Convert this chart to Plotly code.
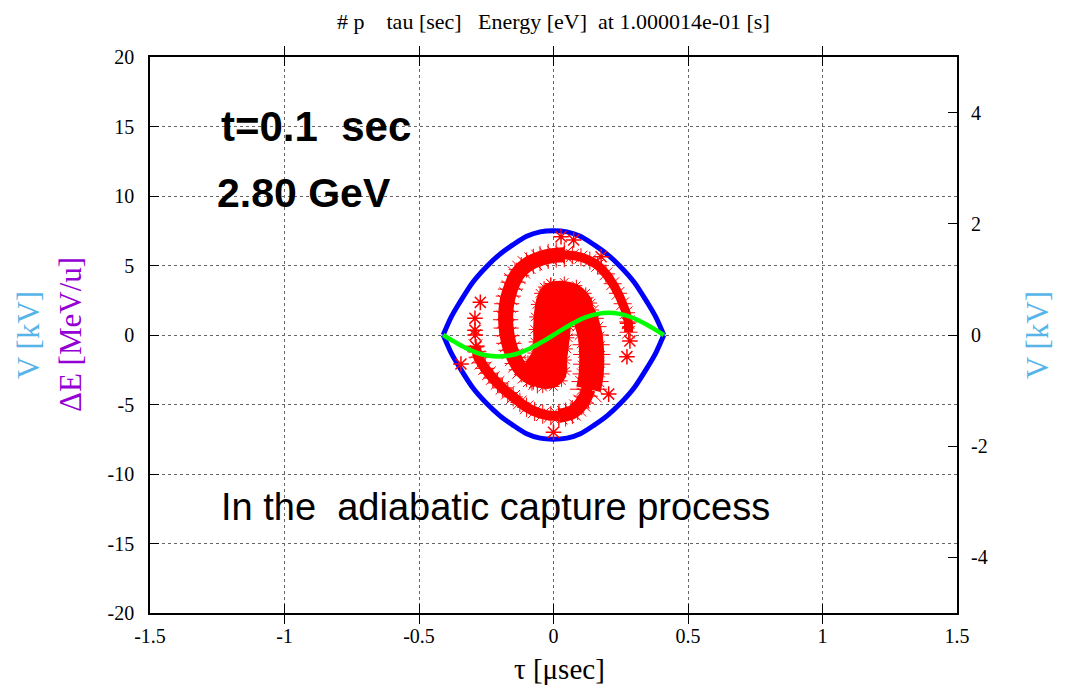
import plotly.graph_objects as go

# ---------------- data ----------------
# separatrix (bucket boundary), tau in usec, dE in MeV/u
sep_tau = [-0.41, -0.38, -0.35, -0.30, -0.25, -0.20, -0.15, -0.10, -0.05, 0.0,
           0.05, 0.10, 0.15, 0.20, 0.25, 0.30, 0.35, 0.38, 0.41]
sep_top = [0.0, 1.3, 2.3, 3.8, 4.9, 5.8, 6.5, 7.1, 7.42, 7.5,
           7.42, 7.1, 6.5, 5.8, 4.9, 3.8, 2.3, 1.3, 0.0]
sep_bottom = [0.0, -1.3, -2.3, -3.8, -4.9, -5.8, -6.5, -7.1, -7.42, -7.5,
              -7.42, -7.1, -6.5, -5.8, -4.9, -3.8, -2.3, -1.3, 0.0]

# RF voltage (right axis, kV)
volt_tau = [-0.41, -0.369, -0.328, -0.287, -0.246, -0.205, -0.164, -0.123, -0.082, -0.041, 0.0,
            0.041, 0.082, 0.123, 0.164, 0.205, 0.246, 0.287, 0.328, 0.369, 0.41]
volt_kv = [0.0, -0.12, -0.23, -0.315, -0.37, -0.385, -0.37, -0.315, -0.23, -0.12, 0.0,
           0.124, 0.235, 0.324, 0.38, 0.4, 0.38, 0.324, 0.235, 0.124, 0.0]

# particle distribution: spiral arms (centre lines) and core
armA_out_tau = [0.279, 0.278, 0.27, 0.257, 0.24, 0.22, 0.195, 0.164, 0.135, 0.102, 0.07, 0.04]
armA_out_de = [0.2, 0.94, 1.6, 2.25, 3.0, 3.69, 4.4, 5.01, 5.35, 5.6, 5.72, 5.78]
armA_in_tau = [0.04, 0.01, -0.02, -0.05, -0.075, -0.10, -0.12, -0.137, -0.15, -0.16, -0.168, -0.174,
               -0.177, -0.178, -0.176, -0.172, -0.166, -0.158, -0.147, -0.135, -0.12, -0.10, -0.08, -0.06]
armA_in_de = [5.78, 5.75, 5.65, 5.5, 5.3, 5.03, 4.7, 4.3, 3.8, 3.3, 2.8, 2.25,
              1.7, 1.1, 0.5, -0.05, -0.6, -1.1, -1.6, -2.05, -2.5, -2.85, -3.1, -3.3]

armB_out_tau = [-0.29, -0.285, -0.28, -0.268, -0.255, -0.24, -0.226, -0.208, -0.19, -0.17, -0.15,
                -0.125, -0.10, -0.07, -0.04, -0.01, 0.02]
armB_out_de = [-0.8, -1.2, -1.6, -2.0, -2.4, -2.75, -3.1, -3.45, -3.8, -4.15, -4.45,
               -4.85, -5.2, -5.5, -5.7, -5.8, -5.82]
armB_mid_tau = [0.02, 0.045, 0.07, 0.09, 0.105, 0.12, 0.13]
armB_mid_de = [-5.82, -5.72, -5.55, -5.25, -4.9, -4.4, -3.9]
armB_in_tau = [0.13, 0.136, 0.14, 0.142, 0.142, 0.14, 0.136, 0.128, 0.118, 0.10]
armB_in_de = [-3.9, -3.35, -2.8, -2.1, -1.4, -0.7, 0.0, 0.6, 1.2, 1.8]

core_tau = [-0.01, 0.04, 0.085, 0.12, 0.14, 0.135, 0.10, 0.075, 0.06, 0.055, 0.05, 0.045, 0.045,
            0.03, 0.0, -0.04, -0.075, -0.10, -0.11, -0.095, -0.075, -0.07, -0.07, -0.068, -0.062,
            -0.05, -0.035, -0.01]
core_de = [3.7, 3.78, 3.55, 3.0, 2.3, 1.7, 1.45, 1.3, 0.6, -0.2, -1.0, -1.8, -2.6,
           -3.3, -3.7, -3.75, -3.5, -3.1, -2.6, -1.9, -1.3, -0.5, 0.4, 1.3, 2.2,
           3.0, 3.45, 3.7]

# isolated particles
stray_tau = [0.028, 0.075, 0.177, 0.276, 0.284, 0.273, 0.205, 0.0, -0.272, -0.292, -0.292, -0.291,
             -0.288, -0.344]
stray_de = [7.07, 6.83, 5.63, 0.84, -0.43, -1.56, -4.25, -7.0, 2.35, 1.2, 0.35, 0.0,
            -0.84, -2.09]

# axis ticks
x_ticks = [-1.5, -1, -0.5, 0, 0.5, 1, 1.5]
x_ticklabels = ["-1.5", "-1", "-0.5", "0", "0.5", "1", "1.5"]
y_ticks = [-20, -15, -10, -5, 0, 5, 10, 15, 20]
y_ticklabels = ["-20", "-15", "-10", "-5", "0", "5", "10", "15", "20"]
y2_ticks = [-4, -2, 0, 2, 4]
y2_ticklabels = ["-4", "-2", "0", "2", "4"]

RED = "#ff0000"
fig = go.Figure()

# separatrix
for ys in (sep_top, sep_bottom):
    fig.add_trace(go.Scatter(x=sep_tau, y=ys, mode="lines",
                             line=dict(color="#0000ff", width=5, shape="spline", smoothing=0.8),
                             hoverinfo="skip", showlegend=False))

# core
fig.add_trace(go.Scatter(x=core_tau, y=core_de, mode="lines+markers", fill="toself",
                         fillcolor=RED, line=dict(color=RED, width=3, shape="spline"),
                         marker=dict(symbol="asterisk-open", size=10, color=RED,
                                     line=dict(color=RED, width=1)),
                         hoverinfo="skip", showlegend=False))


def arm(tx, ty, w, ms):
    fig.add_trace(go.Scatter(x=tx, y=ty, mode="lines+markers",
                             line=dict(color=RED, width=w, shape="spline"),
                             marker=dict(symbol="asterisk-open", size=ms, color=RED,
                                         line=dict(color=RED, width=1)),
                             hoverinfo="skip", showlegend=False))


arm(armA_out_tau, armA_out_de, 9, 15)
arm(armA_in_tau, armA_in_de, 15, 21)
arm(armB_out_tau, armB_out_de, 10, 16)
arm(armB_mid_tau, armB_mid_de, 14, 20)
arm(armB_in_tau, armB_in_de, 25, 31)

fig.add_trace(go.Scatter(x=stray_tau, y=stray_de, mode="markers",
                         marker=dict(symbol="asterisk-open", size=13, color=RED,
                                     line=dict(color=RED, width=1.5)),
                         hoverinfo="skip", showlegend=False))

# voltage
fig.add_trace(go.Scatter(x=volt_tau, y=volt_kv, yaxis="y2", mode="lines",
                         line=dict(color="#00ff00", width=4.5, shape="spline"),
                         hoverinfo="skip", showlegend=False))

serif = "Liberation Serif, Times New Roman, serif"
sans = "Liberation Sans, Arial, Helvetica, sans-serif"
nb = "\u00a0"
GRID = "#666666"

fig.update_layout(
    width=1071, height=691,
    margin=dict(l=150, r=114, t=57, b=78),
    paper_bgcolor="white", plot_bgcolor="white",
    font=dict(family=serif, size=20, color="black"),
    xaxis=dict(range=[-1.5, 1.5], tickvals=x_ticks, ticktext=x_ticklabels,
               showgrid=True, gridcolor=GRID, griddash="dot", gridwidth=1,
               zeroline=False, showline=True, linecolor="black", linewidth=1.5,
               mirror="allticks", ticks="inside", ticklen=9, tickcolor="black",
               ticklabelstandoff=4, tickfont=dict(family=serif, size=20)),
    yaxis=dict(range=[-20, 20], tickvals=y_ticks, ticktext=y_ticklabels,
               showgrid=True, gridcolor=GRID, griddash="dot", gridwidth=1,
               zeroline=False, showline=True, linecolor="black", linewidth=1.5,
               mirror=True, ticks="inside", ticklen=9, tickcolor="black",
               ticklabelstandoff=10, tickfont=dict(family=serif, size=20)),
    yaxis2=dict(range=[-5, 5], tickvals=y2_ticks, ticktext=y2_ticklabels,
                overlaying="y", side="right",
                showgrid=False, zeroline=False, showline=False,
                ticks="inside", ticklen=9, tickcolor="black",
                ticklabelstandoff=13, tickfont=dict(family=serif, size=20)),
)

ann = [
    dict(text="#" + nb + "p" + nb * 4 + "tau [sec]" + nb * 3 + "Energy [eV]" + nb * 2 + "at 1.000014e-01 [s]",
         xref="paper", yref="paper", x=0.5, y=1, yshift=36, xshift=0, xanchor="center", yanchor="middle",
         showarrow=False, font=dict(family=serif, size=22)),
    dict(text="τ [μsec]", xref="paper", yref="paper", x=0.5, y=0, yshift=-56, xshift=6,
         xanchor="center", yanchor="middle", showarrow=False, font=dict(family=serif, size=29)),
    dict(text="V [kV]", xref="paper", yref="paper", x=0, xshift=-122, y=0.5,
         textangle=-90, xanchor="center", yanchor="middle", showarrow=False,
         font=dict(family=serif, size=31, color="#56b4e9")),
    dict(text="ΔE [MeV/u]", xref="paper", yref="paper", x=0, xshift=-80, y=0.5,
         textangle=-90, xanchor="center", yanchor="middle", showarrow=False,
         font=dict(family=serif, size=31, color="#9400d3")),
    dict(text="V [kV]", xref="paper", yref="paper", x=1, xshift=80, y=0.5,
         textangle=-90, xanchor="center", yanchor="middle", showarrow=False,
         font=dict(family=serif, size=31, color="#56b4e9")),
    dict(text="<b>t=0.1" + nb * 2 + "sec</b>", xref="x", yref="y", x=-1.245, y=15,
         xanchor="left", yanchor="middle", showarrow=False, font=dict(family=sans, size=42)),
    dict(text="<b>2.80 GeV</b>", xref="x", yref="y", x=-1.26, y=10.2,
         xanchor="left", yanchor="middle", showarrow=False, font=dict(family=sans, size=41)),
    dict(text="In the" + nb * 2 + "adiabatic capture process", xref="x", yref="y", x=-1.245, y=-12.4,
         xanchor="left", yanchor="middle", showarrow=False, font=dict(family=sans, size=38)),
]
fig.update_layout(annotations=ann)

fig.write_html("out.html")
